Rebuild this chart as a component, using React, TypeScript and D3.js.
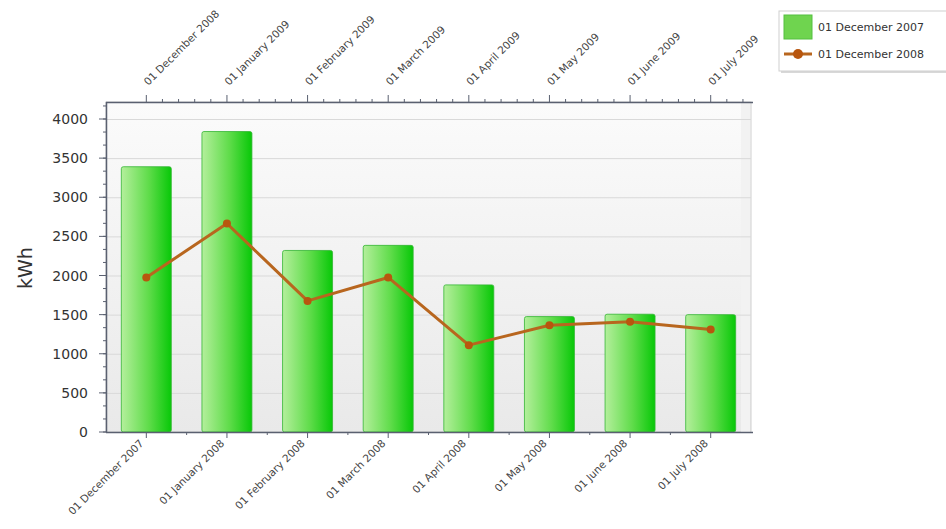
import React, { useEffect, useRef } from 'react';
import * as d3 from 'd3';

const categories = [
  '01 December 2007', '01 January 2008', '01 February 2008', '01 March 2008',
  '01 April 2008', '01 May 2008', '01 June 2008', '01 July 2008',
];
const topLabels = [
  '01 December 2008', '01 January 2009', '01 February 2009', '01 March 2009',
  '01 April 2009', '01 May 2009', '01 June 2009', '01 July 2009',
];
const barValues = [3390, 3840, 2320, 2385, 1880, 1475, 1505, 1500];
const lineValues = [1975, 2665, 1675, 1975, 1110, 1365, 1410, 1310];
const yTicks = [0, 500, 1000, 1500, 2000, 2500, 3000, 3500, 4000];
const seriesNames = ['01 December 2007', '01 December 2008'];

const W = 946;
const H = 529;
const left = 106, right = 751, top = 102, bottom = 432;
const font = 'DejaVu Sans, Verdana, sans-serif';

export default function App() {
  const ref = useRef<SVGSVGElement>(null);

  useEffect(() => {
    const svg = d3.select(ref.current);
    svg.selectAll('*').remove();

    const defs = svg.append('defs');
    const bg = defs.append('linearGradient').attr('id', 'bg')
      .attr('x1', 0).attr('y1', 0).attr('x2', 0).attr('y2', 1);
    bg.append('stop').attr('offset', '0%').attr('stop-color', '#fbfbfb');
    bg.append('stop').attr('offset', '100%').attr('stop-color', '#e9e9e9');

    const bar = defs.append('linearGradient').attr('id', 'bar')
      .attr('x1', 0).attr('y1', 0).attr('x2', 1).attr('y2', 0);
    bar.append('stop').attr('offset', '0%').attr('stop-color', '#b4ef9c');
    bar.append('stop').attr('offset', '55%').attr('stop-color', '#5fdc4a');
    bar.append('stop').attr('offset', '100%').attr('stop-color', '#08c808');

    const x = d3.scaleBand<string>().domain(categories).range([left, right])
      .paddingInner(0.38).paddingOuter(0.19);
    const y = d3.scaleLinear().domain([0, 4000]).range([bottom, 119]);

    // plot background
    svg.append('rect').attr('x', left).attr('y', top)
      .attr('width', right - left).attr('height', bottom - top)
      .attr('fill', 'url(#bg)').attr('stroke', '#d0d0d0');
    svg.append('rect').attr('x', right - 10).attr('y', top + 1)
      .attr('width', 9).attr('height', bottom - top - 1)
      .attr('fill', '#f2f2f2');

    // gridlines
    svg.append('g').selectAll('line').data(yTicks.slice(1)).enter().append('line')
      .attr('x1', left).attr('x2', right)
      .attr('y1', d => y(d) + 0.5).attr('y2', d => y(d) + 0.5)
      .attr('stroke', '#d9d9d9');

    // bars
    svg.append('g').selectAll('rect').data(barValues).enter().append('rect')
      .attr('x', (d, i) => x(categories[i])!)
      .attr('y', d => y(d))
      .attr('width', x.bandwidth())
      .attr('height', d => bottom - y(d))
      .attr('rx', 2)
      .attr('fill', 'url(#bar)')
      .attr('stroke', '#33b533').attr('stroke-width', 0.8);

    // line
    const cx = (i: number) => x(categories[i])! + x.bandwidth() / 2;
    const line = d3.line<number>().x((d, i) => cx(i)).y(d => y(d));
    svg.append('path').attr('d', line(lineValues))
      .attr('fill', 'none').attr('stroke', '#b8661e').attr('stroke-width', 3)
      .attr('stroke-linejoin', 'round');
    svg.append('g').selectAll('circle').data(lineValues).enter().append('circle')
      .attr('cx', (d, i) => cx(i)).attr('cy', d => y(d)).attr('r', 4)
      .attr('fill', '#b8560e');

    const axisColor = '#5a6070';
    // left axis
    svg.append('line').attr('x1', left + 0.5).attr('x2', left + 0.5)
      .attr('y1', top).attr('y2', bottom).attr('stroke', axisColor).attr('stroke-width', 1.5);
    const minor = d3.range(0, 4200, 500 / 3);
    svg.append('g').selectAll('line').data(minor).enter().append('line')
      .attr('x1', left - 3).attr('x2', left)
      .attr('y1', d => y(d)).attr('y2', d => y(d)).attr('stroke', axisColor);
    svg.append('g').selectAll('line').data(yTicks).enter().append('line')
      .attr('x1', left - 7).attr('x2', left)
      .attr('y1', d => y(d)).attr('y2', d => y(d)).attr('stroke', axisColor);
    svg.append('g').selectAll('text').data(yTicks).enter().append('text')
      .attr('x', 88).attr('y', d => y(d) + 5)
      .attr('text-anchor', 'end').attr('font-family', font).attr('font-size', 14)
      .attr('fill', '#333').text(d => d);

    // bottom axis
    svg.append('line').attr('x1', left).attr('x2', right + 2)
      .attr('y1', bottom + 0.5).attr('y2', bottom + 0.5)
      .attr('stroke', axisColor).attr('stroke-width', 1.5);
    svg.append('g').selectAll('line').data(categories).enter().append('line')
      .attr('x1', d => x(d)! + x.bandwidth() / 2).attr('x2', d => x(d)! + x.bandwidth() / 2)
      .attr('y1', bottom).attr('y2', bottom + 6).attr('stroke', axisColor);
    svg.append('g').selectAll('line').data(categories.slice(1)).enter().append('line')
      .attr('x1', d => x(d)! - x.step() * x.paddingInner() / 2)
      .attr('x2', d => x(d)! - x.step() * x.paddingInner() / 2)
      .attr('y1', bottom).attr('y2', bottom + 3).attr('stroke', axisColor);
    svg.append('g').selectAll('text').data(categories).enter().append('text')
      .attr('transform', d => `translate(${x(d)! + x.bandwidth() / 2 - 2},${bottom + 12}) rotate(-45)`)
      .attr('text-anchor', 'end').attr('font-family', font).attr('font-size', 10.5)
      .attr('fill', '#444').text(d => d);

    // top axis
    svg.append('line').attr('x1', left).attr('x2', right + 2)
      .attr('y1', top + 0.5).attr('y2', top + 0.5)
      .attr('stroke', axisColor).attr('stroke-width', 1.5);
    const tc = topLabels.map((d, i) => cx(i));
    const topMinor: number[] = [];
    tc.forEach(c => { for (let k = 1; k < 5; k++) topMinor.push(c + k * x.step() / 5); });
    svg.append('g').selectAll('line').data(topMinor.filter(v => v < right)).enter().append('line')
      .attr('x1', d => d).attr('x2', d => d)
      .attr('y1', top - 3).attr('y2', top).attr('stroke', axisColor);
    svg.append('g').selectAll('line').data(tc).enter().append('line')
      .attr('x1', d => d).attr('x2', d => d)
      .attr('y1', top - 7).attr('y2', top).attr('stroke', axisColor);
    svg.append('g').selectAll('text').data(topLabels).enter().append('text')
      .attr('transform', (d, i) => `translate(${tc[i] + 2},${top - 16}) rotate(-45)`)
      .attr('text-anchor', 'start').attr('font-family', font).attr('font-size', 10.5)
      .attr('fill', '#444').text(d => d);

    // y label
    svg.append('text').attr('transform', 'translate(32,268) rotate(-90)')
      .attr('text-anchor', 'middle').attr('font-family', font).attr('font-size', 19)
      .attr('fill', '#333').text('kWh');

    // legend
    const lg = svg.append('g');
    lg.append('rect').attr('x', 781).attr('y', 13).attr('width', 170).attr('height', 60)
      .attr('fill', '#d8d8d8');
    lg.append('rect').attr('x', 779).attr('y', 11).attr('width', 170).attr('height', 60)
      .attr('fill', '#fff').attr('stroke', '#cfcfcf');
    lg.append('rect').attr('x', 784).attr('y', 15).attr('width', 28).attr('height', 24)
      .attr('fill', '#6fd44f').attr('stroke', '#55c040');
    lg.append('line').attr('x1', 784).attr('x2', 812).attr('y1', 54).attr('y2', 54)
      .attr('stroke', '#b8661e').attr('stroke-width', 3);
    lg.append('circle').attr('cx', 798).attr('cy', 54).attr('r', 5).attr('fill', '#b8560e');
    lg.selectAll('text.leg').data(seriesNames).enter().append('text')
      .attr('x', 818).attr('y', (d, i) => 31 + i * 27)
      .attr('font-family', font).attr('font-size', 11).attr('fill', '#333').text(d => d);
  }, []);

  return (
    <svg ref={ref} width={W} height={H}
      style={{ position: 'absolute', left: 0, top: 0, background: '#fff' }} />
  );
}
